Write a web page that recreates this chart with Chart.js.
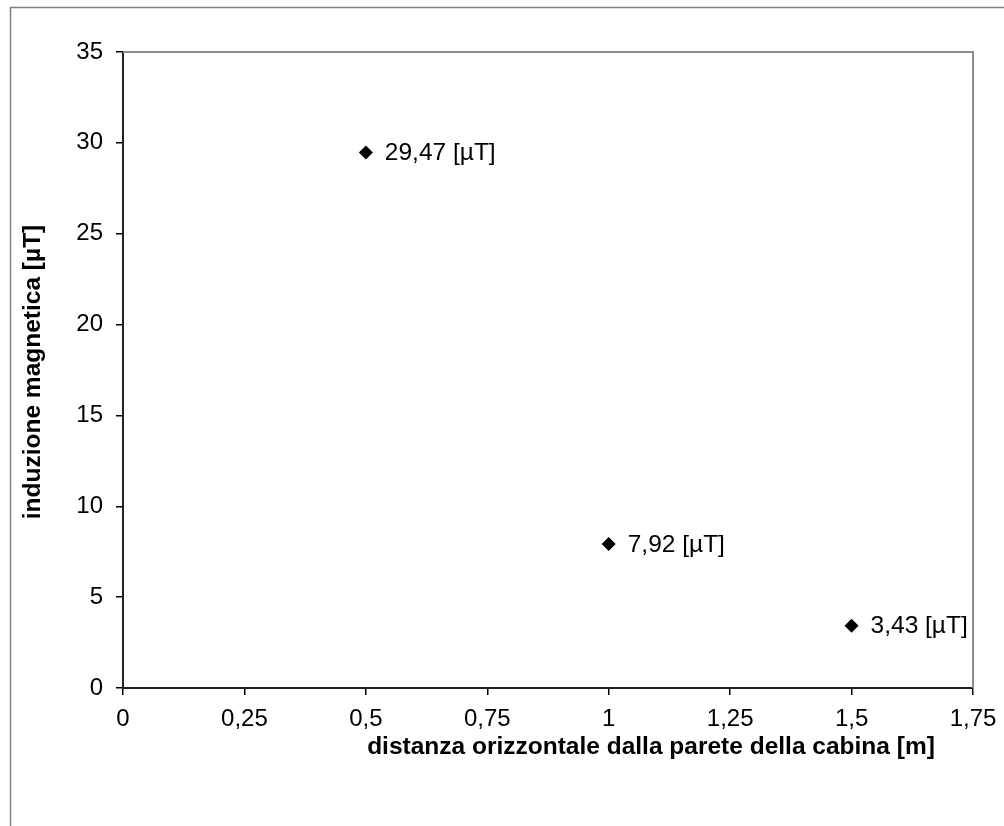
<!DOCTYPE html>
<html>
<head>
<meta charset="utf-8">
<script src="https://cdn.jsdelivr.net/npm/chart.js@4.4.0/dist/chart.umd.min.js"></script>
<style>
  html, body { margin: 0; padding: 0; background: #fff; }
  #wrap { width: 1004px; height: 826px; }
</style>
</head>
<body>
<div id="wrap"><canvas id="myChart" width="1004" height="826"></canvas></div>
<script>
// dati
const distanze = [0.5, 1, 1.5]
const induzione = [29.47, 7.92, 3.43]
const etichette = ['29,47 [µT]', '7,92 [µT]', '3,43 [µT]']
const titoloX = 'distanza orizzontale dalla parete della cabina [m]'
const titoloY = 'induzione magnetica [µT]'

const font = 'Liberation Sans, Arial, sans-serif'

const cornice = {
    id: 'cornice',
    afterDraw(chart) {
        const c = chart.ctx
        const a = chart.chartArea
        c.save()
        // bordo esterno
        c.strokeStyle = '#808080'
        c.lineWidth = 1.5
        c.beginPath()
        c.moveTo(10.5, 826)
        c.lineTo(10.5, 7.5)
        c.lineTo(1004, 7.5)
        c.stroke()
        // bordo area grafico (sopra e destra)
        c.strokeStyle = '#8c8c8c'
        c.lineWidth = 2
        c.beginPath()
        c.moveTo(a.left, a.top)
        c.lineTo(a.right, a.top)
        c.lineTo(a.right, a.bottom)
        c.stroke()
        // etichette dei punti
        const meta = chart.getDatasetMeta(0)
        c.fillStyle = '#000'
        c.font = '24.5px ' + font
        c.textBaseline = 'middle'
        c.textAlign = 'left'
        meta.data.forEach((p, i) => {
            c.fillText(etichette[i], p.x + 19, p.y + 1)
        })
        // titoli assi
        c.font = 'bold 24.5px ' + font
        c.textAlign = 'center'
        c.fillText(titoloX, 651, 747)
        c.translate(33, 372)
        c.rotate(-Math.PI / 2)
        c.fillText(titoloY, 0, 0)
        c.restore()
    }
}

const ctx = document.getElementById('myChart')
new Chart(ctx, {
    type: 'scatter',
    data: {
        datasets: [{
            data: distanze.map((x, i) => ({ x: x, y: induzione[i] })),
            pointStyle: 'rectRot',
            pointRadius: 7,
            pointHoverRadius: 7,
            backgroundColor: '#000',
            borderColor: '#000',
            borderWidth: 0
        }]
    },
    options: {
        responsive: false,
        animation: false,
        plugins: {
            legend: { display: false },
            tooltip: { enabled: false }
        },
        layout: { padding: { left: 0, top: 52, right: 31, bottom: 0 } },
        scales: {
            x: {
                type: 'linear',
                min: 0,
                max: 1.75,
                afterFit: s => {
                    s.height = 138
                    s.paddingLeft = 0
                    s.paddingRight = 0
                },
                ticks: {
                    stepSize: 0.25,
                    color: '#000',
                    font: { family: font, size: 24 },
                    padding: 10,
                    maxRotation: 0,
                    callback: v => String(v).replace('.', ',')
                },
                grid: { drawOnChartArea: false, drawTicks: true, tickLength: 7, color: '#000', lineWidth: 1.5 },
                border: { color: '#222', width: 2 }
            },
            y: {
                min: 0,
                max: 35,
                afterFit: s => {
                    s.width = 123
                    s.paddingTop = 0
                    s.paddingBottom = 0
                },
                ticks: {
                    stepSize: 5,
                    color: '#000',
                    font: { family: font, size: 24 },
                    padding: 13
                },
                grid: { drawOnChartArea: false, drawTicks: true, tickLength: 7, color: '#000', lineWidth: 1.5 },
                border: { color: '#222', width: 2 }
            }
        }
    },
    plugins: [cornice]
})
</script>
</body>
</html>
